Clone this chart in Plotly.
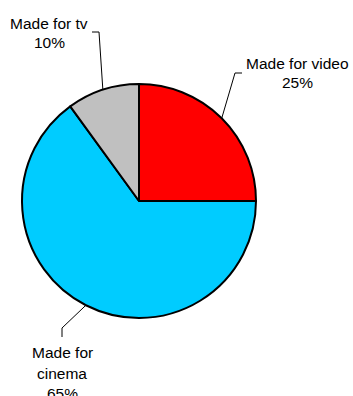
import math
import plotly.graph_objects as go

# Data
labels = ["Made for video", "Made for cinema", "Made for tv"]
label_lines = [["Made for video"], ["Made for", "cinema"], ["Made for tv"]]
values = [25, 65, 10]
colors = ["#FF0000", "#00CCFF", "#C0C0C0"]

W, H = 353, 396
# pie geometry in pixels
cx, cy, r = 139, 201, 117

def px(x):
    return x / W

def py(y):
    return 1 - y / H

fig = go.Figure(go.Pie(
    labels=labels,
    values=values,
    sort=False,
    direction="clockwise",
    rotation=0,
    marker=dict(colors=colors, line=dict(color="black", width=2)),
    textinfo="none",
    hoverinfo="label+percent",
    showlegend=False,
    domain=dict(x=[px(cx - r), px(cx + r)], y=[py(cy + r), py(cy - r)]),
))

# label layout: elbow point, end point, text centre x, first line y, line step (pixels)
label_layout = [
    dict(elbow=(235, 73), end=(242, 73), tx=297.5, ty=63.5, step=18.5),
    dict(elbow=(62, 328), end=(62, 337), tx=62.5, ty=352.5, step=20.5),
    dict(elbow=(99, 32), end=(92, 32), tx=49, ty=23.5, step=18.8),
]

total = sum(values)
cum = 0
shapes = []
annotations = []
for lab_lines, v, lay in zip(label_lines, values, label_layout):
    mid = (cum + v / 2) / total * 2 * math.pi
    cum += v
    sx = cx + r * math.sin(mid)
    sy = cy - r * math.cos(mid)
    ex, ey = lay["elbow"]
    fx, fy = lay["end"]
    path = f"M {px(sx)} {py(sy)} L {px(ex)} {py(ey)} L {px(fx)} {py(fy)}"
    shapes.append(dict(type="path", path=path, xref="paper", yref="paper",
                       line=dict(color="black", width=1)))
    pct = f"{round(v / total * 100)}%"
    for i, line in enumerate(lab_lines + [pct]):
        annotations.append(dict(text=line, x=px(lay["tx"]), y=py(lay["ty"] + i * lay["step"]),
                                xref="paper", yref="paper",
                                xanchor="center", yanchor="middle", showarrow=False,
                                font=dict(family="Liberation Sans, Arial", size=15.5,
                                          color="black")))

fig.update_layout(
    width=W, height=H,
    margin=dict(l=0, r=0, t=0, b=0),
    paper_bgcolor="white",
    plot_bgcolor="white",
    shapes=shapes,
    annotations=annotations,
)

fig.write_html("out.html")
